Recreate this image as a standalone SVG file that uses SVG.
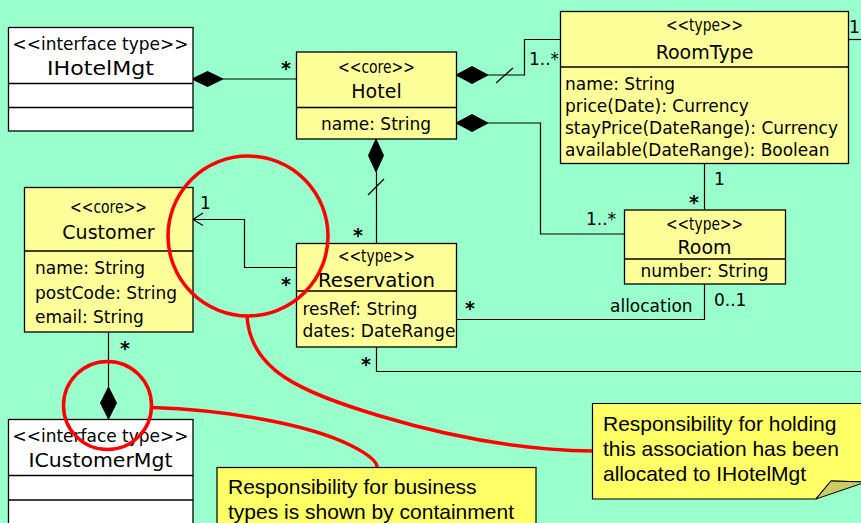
<svg xmlns="http://www.w3.org/2000/svg" width="861" height="523" viewBox="0 0 861 523">
  <style>
    .cls { fill: #ffff99; stroke: #000; stroke-width: 1.3; }
    .ifc { fill: #ffffff; stroke: #000; stroke-width: 1.3; }
    .div { stroke: #000; stroke-width: 1.3; fill: none; }
    .ln { stroke: #000; stroke-width: 1.2; fill: none; }
    .dia { fill: #000; stroke: #000; stroke-width: 1; }
    .st { font-family: "DejaVu Sans", sans-serif; font-size: 17.5px; fill: #000; text-anchor: middle; }
    .nm { font-family: "DejaVu Sans", sans-serif; font-size: 19px; fill: #000; text-anchor: middle; }
    .at { font-family: "DejaVu Sans", sans-serif; font-size: 17px; fill: #000; }
    .lb { font-family: "DejaVu Sans", sans-serif; font-size: 17px; fill: #000; }
    .star { font-family: "DejaVu Sans", sans-serif; font-size: 19px; font-weight: bold; fill: #000; }
    .note { fill: #ffff66; stroke: #000; stroke-width: 1.2; }
    .nt { font-family: "Liberation Sans", Arial, sans-serif; font-size: 21px; fill: #000; }
    .hl { fill: none; stroke: #ff0000; stroke-width: 3.5; }
  </style>

  <rect width="861" height="523" fill="#99ffcc"/>

  <!-- associations -->
  <g id="connectors">
    <!-- IHotelMgt owns Hotel -->
    <line class="ln" x1="223" y1="79" x2="296" y2="79"/>
    <polygon class="dia" points="192,79 207.5,71.5 223,79 207.5,86.5"/>
    <text class="star" x="281" y="75">*</text>

    <!-- Hotel owns RoomType -->
    <polygon class="dia" points="456,75 472,66.5 488,75 472,83.5"/>
    <polyline class="ln" points="488,75 524.5,75 524.5,39.5 560,39.5"/>
    <line class="ln" x1="496" y1="83" x2="513" y2="68"/>
    <text class="lb" x="529" y="65">1..*</text>

    <!-- Hotel owns Room -->
    <polygon class="dia" points="456,123 472,114.5 488,123 472,131.5"/>
    <polyline class="ln" points="488,123 540.5,123 540.5,234 624,234"/>
    <text class="lb" x="586" y="225">1..*</text>

    <!-- Hotel owns Reservation -->
    <polygon class="dia" points="376,139 383.5,155.5 376,172 368.5,155.5"/>
    <line class="ln" x1="376.5" y1="172" x2="376.5" y2="243"/>
    <line class="ln" x1="368" y1="195" x2="384" y2="179"/>
    <text class="star" x="353" y="242">*</text>

    <!-- Reservation to Customer -->
    <polyline class="ln" points="296,267.5 244.5,267.5 244.5,219.5 193,219.5"/>
    <polyline class="ln" points="203,213 193,219.5 203,225.5"/>
    <text class="lb" x="200" y="209">1</text>
    <text class="star" x="281" y="291">*</text>

    <!-- RoomType to Room -->
    <line class="ln" x1="704.5" y1="163" x2="704.5" y2="210"/>
    <text class="lb" x="714" y="185">1</text>
    <text class="star" x="689" y="209">*</text>

    <!-- allocation: Reservation to Room -->
    <polyline class="ln" points="704.5,284 704.5,319.5 456,319.5"/>
    <text class="lb" x="610" y="312">allocation</text>
    <text class="lb" x="714" y="306">0..1</text>
    <text class="star" x="465" y="315">*</text>

    <!-- Reservation, lower association -->
    <polyline class="ln" points="376.5,347 376.5,371.5 861,371.5"/>
    <text class="star" x="361" y="371">*</text>

    <!-- RoomType, outgoing association -->
    <line class="ln" x1="848" y1="39.5" x2="861" y2="39.5"/>
    <text class="lb" x="849" y="33">1</text>

    <!-- ICustomerMgt owns Customer -->
    <line class="ln" x1="108.5" y1="332" x2="108.5" y2="387"/>
    <polygon class="dia" points="108.5,387 116.5,403 108.5,419 100.5,403"/>
    <text class="star" x="120" y="355">*</text>
  </g>

  <g id="IHotelMgt">
    <rect class="ifc" x="8.5" y="27.5" width="184.5" height="103.5"/>
    <line class="div" x1="8.5" y1="83.5" x2="193" y2="83.5"/>
    <line class="div" x1="8.5" y1="107.5" x2="193" y2="107.5"/>
    <text class="st" x="100.5" y="50" textLength="176" lengthAdjust="spacingAndGlyphs">&lt;&lt;interface type&gt;&gt;</text>
    <text class="nm" x="100.5" y="75" textLength="107" lengthAdjust="spacingAndGlyphs">IHotelMgt</text>
  </g>

  <g id="Hotel">
    <rect class="cls" x="296.5" y="52" width="160" height="87"/>
    <line class="div" x1="296.5" y1="107.5" x2="456.5" y2="107.5"/>
    <text class="st" x="376.5" y="73" textLength="77" lengthAdjust="spacingAndGlyphs">&lt;&lt;core&gt;&gt;</text>
    <text class="nm" x="376.5" y="98">Hotel</text>
    <text class="at" x="321" y="130">name: String</text>
  </g>

  <g id="RoomType">
    <rect class="cls" x="560.5" y="11.5" width="288" height="152"/>
    <line class="div" x1="560.5" y1="67" x2="848.5" y2="67"/>
    <text class="st" x="704.5" y="31" textLength="77" lengthAdjust="spacingAndGlyphs">&lt;&lt;type&gt;&gt;</text>
    <text class="nm" x="704.5" y="59">RoomType</text>
    <text class="at" x="565" y="90">name: String</text>
    <text class="at" x="565" y="111.5">price(Date): Currency</text>
    <text class="at" x="565" y="133.5">stayPrice(DateRange): Currency</text>
    <text class="at" x="565" y="155.5">available(DateRange): Boolean</text>
  </g>

  <g id="Room">
    <rect class="cls" x="624.5" y="210" width="161" height="74"/>
    <line class="div" x1="624.5" y1="259" x2="785.5" y2="259"/>
    <text class="st" x="704.5" y="230" textLength="77" lengthAdjust="spacingAndGlyphs">&lt;&lt;type&gt;&gt;</text>
    <text class="nm" x="704.5" y="254">Room</text>
    <text class="at" x="704.5" y="277" text-anchor="middle">number: String</text>
  </g>

  <g id="Customer">
    <rect class="cls" x="24.5" y="187.5" width="168.5" height="144.5"/>
    <line class="div" x1="24.5" y1="251" x2="193" y2="251"/>
    <text class="st" x="108.5" y="213" textLength="77" lengthAdjust="spacingAndGlyphs">&lt;&lt;core&gt;&gt;</text>
    <text class="nm" x="108.5" y="239">Customer</text>
    <text class="at" x="35" y="274">name: String</text>
    <text class="at" x="35" y="299">postCode: String</text>
    <text class="at" x="35" y="323">email: String</text>
  </g>

  <g id="Reservation">
    <rect class="cls" x="296.5" y="243.5" width="160" height="103.5"/>
    <line class="div" x1="296.5" y1="291" x2="456.5" y2="291"/>
    <text class="st" x="376.5" y="262" textLength="77" lengthAdjust="spacingAndGlyphs">&lt;&lt;type&gt;&gt;</text>
    <text class="nm" x="376.5" y="287" textLength="117" lengthAdjust="spacingAndGlyphs">Reservation</text>
    <text class="at" x="302.5" y="315">resRef: String</text>
    <text class="at" x="302.5" y="337">dates: DateRange</text>
  </g>

  <g id="ICustomerMgt">
    <rect class="ifc" x="8.5" y="419.5" width="184.5" height="110"/>
    <line class="div" x1="8.5" y1="475.5" x2="193" y2="475.5"/>
    <line class="div" x1="8.5" y1="500" x2="193" y2="500"/>
    <text class="st" x="100.5" y="442" textLength="176" lengthAdjust="spacingAndGlyphs">&lt;&lt;interface type&gt;&gt;</text>
    <text class="nm" x="100.5" y="467" textLength="144" lengthAdjust="spacingAndGlyphs">ICustomerMgt</text>
  </g>

  <g id="note-containment">
    <rect class="note" x="217" y="467.5" width="319" height="70"/>
    <text class="nt" x="228" y="494">Responsibility for business</text>
    <text class="nt" x="228" y="519">types is shown by containment</text>
  </g>

  <g id="note-association">
    <path class="note" d="M592.5,403.5 H866 V482 L831,481 L816,499 H592.5 Z"/>
    <path d="M816,499 L831,481 L866,482 Z" fill="#cccc66" stroke="#000" stroke-width="1"/>
    <text class="nt" x="603" y="430.5">Responsibility for holding</text>
    <text class="nt" x="603" y="455.5">this association has been</text>
    <text class="nt" x="603" y="480.5">allocated to IHotelMgt</text>
  </g>

  <!-- highlight rings and their leader curves -->
  <g id="highlights">
    <circle class="hl" cx="248" cy="236" r="80"/>
    <circle class="hl" cx="107.5" cy="405.5" r="44"/>
    <path class="hl" d="M247,316 C250,370 300,392 380,416 C450,437 520,450 592,451"/>
    <path class="hl" d="M152,407.5 C230,410 310,425 350,445 C370,455 377,462 377,467"/>
  </g>
</svg>
